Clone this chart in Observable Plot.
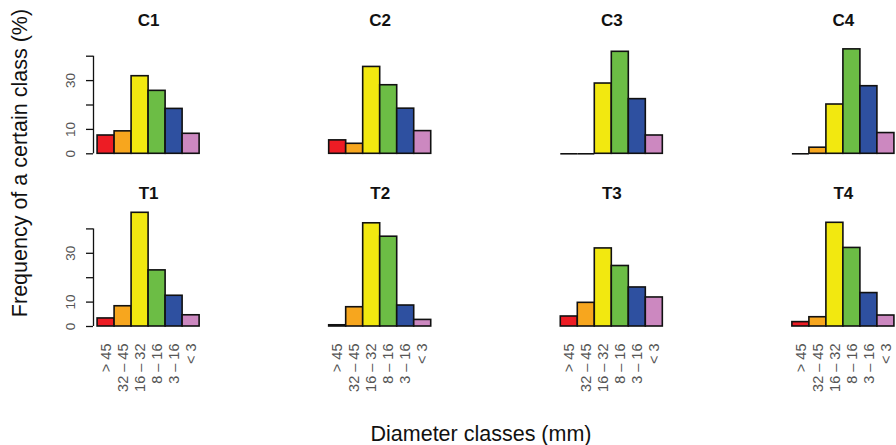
<!DOCTYPE html>
<html>
<head>
<meta charset="utf-8">
<script src="https://cdn.jsdelivr.net/npm/d3@7"></script>
<script src="https://cdn.jsdelivr.net/npm/@observablehq/plot@0.6"></script>
<style>
  html, body { margin: 0; padding: 0; background: #fff; }
  #wrap { position: relative; width: 896px; height: 445px; font-family: "Liberation Sans", Arial, sans-serif; }
  #wrap svg { position: absolute; left: 0; top: 0; overflow: visible; }
  .ytitle { position: absolute; left: 20px; top: 163px; transform: translate(-50%, -50%) rotate(-90deg); white-space: nowrap; font-size: 21.5px; color: #111; }
  .xtitle { position: absolute; left: 481px; top: 434px; transform: translate(-50%, -50%); white-space: nowrap; font-size: 21.5px; color: #111; }
</style>
</head>
<body>
<div id="wrap">
  <div class="ytitle">Frequency of a certain class (%)</div>
  <div class="xtitle">Diameter classes (mm)</div>
</div>
<script>
// Diameter classes, from coarsest to finest, and their bar colours
const classes = ["> 45", "32 – 45", "16 – 32", "8 – 16", "3 – 16", "< 3"];
const classColors = ["#ed1c24", "#f7a61e", "#f2e810", "#6cbd45", "#2e50a0", "#cc88c0"];

// Panels: control plots (C) on the top row, treatments (T) on the bottom row
const panels = ["C1", "C2", "C3", "C4", "T1", "T2", "T3", "T4"];

// Frequency (%) of each diameter class, per panel
const C1 = [7.5, 9.2, 31.8, 25.8, 18.4, 8.2];
const C2 = [5.5, 4.1, 35.6, 28.1, 18.5, 9.3];
const C3 = [0, 0, 28.8, 41.8, 22.4, 7.5];
const C4 = [0, 2.5, 20.2, 42.8, 27.7, 8.5];
const T1 = [3.3, 8.3, 46.6, 23.0, 12.6, 4.6];
const T2 = [0.5, 7.9, 42.3, 36.8, 8.6, 2.7];
const T3 = [4.1, 9.7, 32.0, 24.8, 16.0, 11.9];
const T4 = [1.8, 3.8, 42.5, 32.2, 13.7, 4.5];

// y axis ticks, and the ones that carry a label
const yTicks = [0, 10, 20, 30, 40];
const yTickLabels = [0, 10, 30];

const series = {C1, C2, C3, C4, T1, T2, T3, T4};

// Long table: one row per bar
const panelInfo = panels.map(p => ({name: p, row: p[0], col: +p.slice(1)}));
const bars = panelInfo.flatMap(p =>
  series[p.name].map((v, i) => ({row: p.row, col: p.col, i, cls: classes[i], value: v}))
);
// empty classes still show their outline as a flat line on the baseline
const emptyBars = bars.filter(d => d.value === 0);
// left column only: y axis line
const leftPanels = panelInfo.filter(p => p.col === 1);

const xMin = -0.24, xMax = classes.length + 0.24;

const chart = Plot.plot({
  width: 896,
  height: 445,
  marginLeft: 93,
  marginRight: -2,
  marginTop: 31.3,
  marginBottom: 119,
  style: {fontFamily: "'Liberation Sans', Arial, sans-serif", fontSize: "13px", background: "transparent"},
  fx: {domain: [1, 2, 3, 4], axis: null, paddingInner: 0.5242, paddingOuter: 0, round: false},
  fy: {domain: ["C", "T"], axis: null, paddingInner: 0.2936, paddingOuter: 0, round: false},
  x: {domain: [xMin, xMax]},
  y: {domain: [0, 50]},
  color: {domain: classes, range: classColors},
  marks: [
    Plot.rectY(bars, {
      fx: "col", fy: "row",
      x1: "i", x2: d => d.i + 1,
      y1: 0, y2: "value",
      fill: "cls",
      stroke: "#111", strokeWidth: 1.6
    }),
    Plot.ruleY(emptyBars, {
      fx: "col", fy: "row",
      x1: "i", x2: d => d.i + 1, y: "value",
      stroke: "#111", strokeWidth: 1.6
    }),
    Plot.ruleX(leftPanels, {
      fx: "col", fy: "row",
      x: () => xMin, y1: yTicks[0], y2: yTicks[yTicks.length - 1],
      stroke: "#111", strokeWidth: 1.3
    }),
    Plot.axisY({
      ticks: yTicks,
      tickFormat: d => yTickLabels.includes(d) ? String(d) : "",
      tickRotate: -90,
      tickSize: 7,
      tickPadding: 12,
      stroke: "#111",
      strokeWidth: 1.3,
      fill: "#555",
      fontSize: 13.5,
      label: null
    }),
    Plot.axisX({
      ticks: classes.map((c, i) => i + 0.5),
      tickFormat: d => classes[Math.floor(d)],
      tickRotate: -90,
      tickSize: 0,
      tickPadding: 17,
      fill: "#555",
      fontSize: 14.5,
      label: null
    }),
    Plot.text(panelInfo, {
      fx: "col", fy: "row",
      text: "name",
      frameAnchor: "top",
      dy: -17.5,
      fontWeight: "bold",
      fontSize: 17,
      fill: "#111"
    })
  ]
});

document.getElementById("wrap").prepend(chart);
</script>
</body>
</html>
